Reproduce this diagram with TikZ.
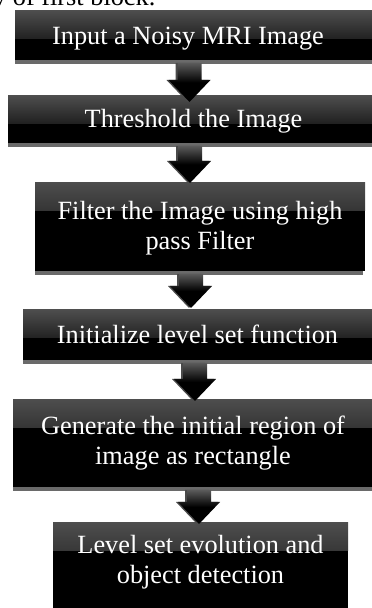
\documentclass[tikz,border=0pt]{standalone}
\usepackage{fontspec}
\setmainfont{Liberation Serif}
\usetikzlibrary{calc}
\definecolor{boxgray}{HTML}{4D4D4D}
\definecolor{shadowgray}{HTML}{6A6A6A}
\definecolor{arrowgray}{HTML}{5A5A5A}
\definecolor{arrowshadow}{HTML}{4A4A4A}
\tikzset{
  stepbox/.style={fill=black, draw=none, inner sep=0pt, outer sep=0pt, anchor=north west,
    path picture={\shade[top color=boxgray, bottom color=black]
      (path picture bounding box.north west) rectangle ([yshift=-28pt]path picture bounding box.north east);}},
  boxtext/.style={text=white, font=\fontsize{26.3}{30}\selectfont, inner sep=0pt, anchor=base, align=center},
  shadowstrip/.style={fill=shadowgray},
  arrowbody/.style={top color=arrowgray, bottom color=black, middle color=black},
  arrowshade/.style={fill=arrowshadow},
}
% #1 from node, #2 to node, #3 tip x (pt), #4 tip offset below the top of #2 (pt)
\newcommand\blkarrow[4]{%
  \fill[arrowshade, shift={(-2pt,-2pt)}] let \p1=(#1.south), \p2=(#2.north) in
    (#3pt-12pt,\y1-3pt) -- (#3pt-12pt,\y2-#4pt+22pt) -- (#3pt-21pt,\y2-#4pt+22pt) -- (#3pt,\y2-#4pt)
    -- (#3pt+21pt,\y2-#4pt+22pt) -- (#3pt+12pt,\y2-#4pt+22pt) -- (#3pt+12pt,\y1-3pt) -- cycle;
  \shade[arrowbody] let \p1=(#1.south), \p2=(#2.north) in
    (#3pt-12pt,\y1-3pt) -- (#3pt-12pt,\y2-#4pt+22pt) -- (#3pt-21pt,\y2-#4pt+22pt) -- (#3pt,\y2-#4pt)
    -- (#3pt+21pt,\y2-#4pt+22pt) -- (#3pt+12pt,\y2-#4pt+22pt) -- (#3pt+12pt,\y1-3pt) -- cycle;
}
% #1 node: grey strip under the box
\newcommand\boxshadow[1]{%
  \fill[shadowstrip] ([yshift=-4pt]#1.south west) rectangle ([xshift=-2pt]#1.south east);
}
\begin{document}
\begin{tikzpicture}[x=1pt,y=1pt]
\useasboundingbox (0,0) rectangle (372,608);
\clip (0,0) rectangle (372,608);
% cut-off text above the chart
\node[text=black, font=\fontsize{26.3}{30}\selectfont, inner sep=0pt, anchor=base west] (top) at (-7,602) {v of first block.};
% boxes
\node[stepbox, minimum width=370pt, minimum height=49pt] (b1) at (15,597) {};
\node[stepbox, minimum width=377pt, minimum height=47pt] (b2) at (8,512) {};
\node[stepbox, minimum width=330pt, minimum height=88pt] (b3) at (35,425) {};
\node[stepbox, minimum width=362pt, minimum height=50pt] (b4) at (23,298) {};
\node[stepbox, minimum width=372pt, minimum height=87pt] (b5) at (13,208) {};
\node[stepbox, minimum width=295pt, minimum height=100pt] (b6) at (53,85) {};
\boxshadow{b1}
\boxshadow{b2}
\boxshadow{b3}
\boxshadow{b4}
\boxshadow{b5}
% texts
\node[boxtext] (t1) at (188,563.8) {Input a Noisy MRI Image};
\node[boxtext] (t2) at (193.5,480) {Threshold the Image};
\node[boxtext] (t3) at (200,358) {Filter the Image using high\\pass Filter};
\node[boxtext] (t4) at (197.5,264) {Initialize level set function};
\node[boxtext] (t5) at (193,143) {Generate the initial region of\\image as rectangle};
\node[boxtext] (t6) at (200.5,24) {Level set evolution and\\object detection};
% block arrows
\blkarrow{b1}{b2}{189.5}{6}
\blkarrow{b2}{b3}{190}{0}
\blkarrow{b3}{b4}{191}{-2}
\blkarrow{b4}{b5}{195}{1}
\blkarrow{b5}{b6}{199}{1}
\end{tikzpicture}
\end{document}
